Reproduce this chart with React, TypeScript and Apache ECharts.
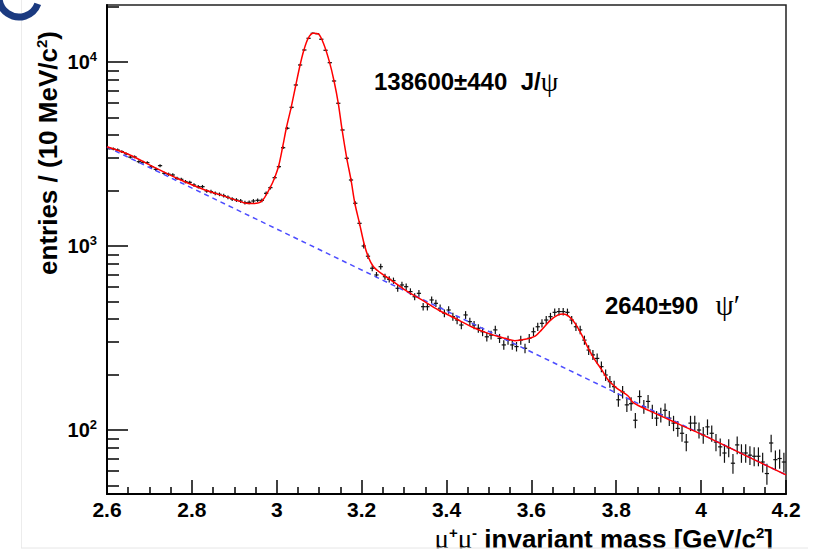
import React, { useEffect, useRef } from 'react';
import * as echarts from 'echarts';

// ---- binning ----
const BIN_START = 2.6;
const BIN_WIDTH = 0.01;

// ---- histogram contents (entries per 10 MeV bin) ----
const COUNTS = [
  3396, 3367, 3325, 3256, 3170, 3040, 3050, 2872, 2849, 2837,
  2698, 2610, 2733, 2483, 2455, 2432, 2332, 2303, 2236, 2218,
  2145, 2101, 2101, 1990, 1974, 1933, 1909, 1877, 1838, 1800,
  1778, 1756, 1720, 1727, 1756, 1771, 1771, 1933, 2075, 2351,
  2698, 3421, 4363, 5671, 7499, 9632, 11620, 13450, 14320, 14250,
  13290, 11577, 9913, 7883, 5965, 4270, 2997, 2284, 1707, 1328,
  1000, 880, 757, 696, 772, 681, 659, 648, 589, 614,
  601, 565, 530, 553, 468, 468, 509, 488, 459, 431,
  449, 413, 396, 372, 422, 388, 372, 357, 342, 321,
  328, 350, 315, 290, 308, 290, 284, 308, 278, 315,
  342, 364, 380, 396, 413, 436, 440, 440, 436, 396,
  364, 350, 308, 272, 256, 245, 221, 199, 183, 172,
  146, 161, 137, 139, 113, 152, 134, 143, 126, 116,
  121, 128, 116, 109, 102, 96, 86, 109, 109, 100,
  94, 104, 96, 86, 81, 75, 80, 66, 83, 75,
  75, 73, 72, 72, 67, 58, 85, 69, 70, 67,
];

// ---- total fit (red) ----
const FIT_X = [
  2.600, 2.654, 2.713, 2.770, 2.831, 2.880, 2.925, 2.945, 2.965, 2.984,
  2.996, 3.005, 3.014, 3.023, 3.034, 3.045, 3.055, 3.064, 3.074, 3.086,
  3.098, 3.110, 3.124, 3.135, 3.145, 3.154, 3.165, 3.175, 3.184, 3.195,
  3.206, 3.216, 3.228, 3.251, 3.267, 3.302, 3.342, 3.381, 3.420, 3.459,
  3.498, 3.538, 3.561, 3.585, 3.609, 3.624, 3.644, 3.663, 3.675, 3.687,
  3.703, 3.719, 3.734, 3.750, 3.766, 3.781, 3.801, 3.828, 3.840, 3.879,
  3.950, 4.000, 4.100, 4.200,
];
const FIT_Y = [
  3460, 3124, 2665, 2304, 2015, 1854, 1713, 1700, 1756, 2067,
  2380, 2756, 3464, 4417, 5671, 7499, 9632, 11620, 13450, 14320,
  14200, 12640, 10040, 7883, 5965, 4270, 2997, 2284, 1707, 1328,
  1025, 868, 772, 696, 659, 577, 509, 449, 405, 364,
  335, 315, 306, 311, 324, 350, 393, 422, 427, 417,
  380, 328, 278, 240, 212, 187, 169, 153, 141, 127,
  107, 95, 73.5, 57,
];

// ---- background (blue dashed) ----
const BG_X = [2.6, 4.2];
const BG_Y = [3450, 57];

// ---- axes ----
const X_MIN = 2.6;
const X_MAX = 4.2;
const X_STEP = 0.2;
const Y_MIN = 44.9;
const Y_MAX = 20400;
const Y_MAJOR = [100, 1000, 10000];
const Y_MINOR = [50, 60, 70, 80, 90, 200, 300, 400, 500, 600, 700, 800, 900,
  2000, 3000, 4000, 5000, 6000, 7000, 8000, 9000, 20000];

// ---- texts ----
const JPSI_YIELD = '138600±440';
const JPSI_NAME = 'J/';
const PSI = 'ψ';
const PSI2S_YIELD = '2640±90';
const PSI2S_NAME = 'ψ′';
const Y_TITLE = 'entries / (10 MeV/c';
const X_TITLE = ' invariant mass [GeV/c';

const SANS = "'Liberation Sans', Arial, Helvetica, sans-serif";
const SERIF = "'Liberation Serif', 'DejaVu Serif', serif";

export default function App() {
  const ref = useRef<HTMLDivElement>(null);

  useEffect(() => {
    if (!ref.current) return;
    const chart = echarts.init(ref.current, undefined, { renderer: 'svg' });

    const half = BIN_WIDTH / 2;
    const histData = COUNTS.map((c, i) => [BIN_START + BIN_WIDTH * (i + 0.5), c]);
    const fitData = FIT_X.map((x, i) => [x, FIT_Y[i]]);
    const bgData = BG_X.map((x, i) => [x, BG_Y[i]]);

    const option: any = {
      animation: false,
      backgroundColor: '#fff',
      grid: {
        left: 107, right: 39, top: 5, bottom: 60,
        show: true, borderColor: '#222', borderWidth: 1.5,
        backgroundColor: 'transparent',
        outerBoundsMode: 'none',
      },
      xAxis: {
        type: 'value', min: X_MIN, max: X_MAX, interval: X_STEP,
        axisLine: { show: true, onZero: false, lineStyle: { color: '#000', width: 2 } },
        axisTick: { show: true, inside: true, length: 14, lineStyle: { color: '#000', width: 1.5 } },
        minorTick: { show: true, splitNumber: 4, length: 7, lineStyle: { color: '#000', width: 1.5 } },
        axisLabel: {
          color: '#000', fontFamily: SANS, fontWeight: 'bold', fontSize: 21, margin: 5,
          showMinLabel: true, showMaxLabel: true, hideOverlap: false,
        },
        splitLine: { show: false },
        minorSplitLine: { show: false },
      },
      yAxis: [
        {
          type: 'log', logBase: 10, min: Y_MIN, max: Y_MAX, position: 'left', offset: 0,
          axisLine: { show: true, onZero: false, lineStyle: { color: '#000', width: 2 } },
          axisTick: { show: true, inside: true, length: 21, customValues: Y_MAJOR, lineStyle: { color: '#000', width: 1.5 } },
          axisLabel: {
            customValues: Y_MAJOR,
            margin: 10,
            formatter: (v: number) => '{b|10}{s|' + Math.round(Math.log10(v)) + '}',
            rich: {
              b: { fontSize: 20, fontWeight: 'bold', fontFamily: SANS, color: '#000', lineHeight: 24 },
              s: { fontSize: 13, fontWeight: 'bold', fontFamily: SANS, color: '#000', verticalAlign: 'top', lineHeight: 14 },
            },
          },
          splitLine: { show: false },
        },
        {
          type: 'log', logBase: 10, min: Y_MIN, max: Y_MAX, position: 'left', offset: 0,
          axisLine: { show: false, onZero: false },
          axisTick: { show: true, inside: true, length: 12, customValues: Y_MINOR, lineStyle: { color: '#000', width: 1.5 } },
          axisLabel: { show: false },
          splitLine: { show: false },
        },
      ],
      series: [
        {
          type: 'custom',
          name: 'data',
          clip: true,
          data: histData,
          encode: { x: 0, y: 1 },
          z: 3,
          renderItem: (_params: any, api: any) => {
            const x = api.value(0);
            const y = api.value(1);
            const e = Math.sqrt(y);
            const l = api.coord([x - half, y]);
            const r = api.coord([x + half, y]);
            const t = api.coord([x, y + e]);
            const b = api.coord([x, y - e]);
            return {
              type: 'group',
              children: [
                { type: 'line', shape: { x1: l[0], y1: l[1], x2: r[0], y2: r[1] }, style: { stroke: '#111', lineWidth: 1.2 } },
                { type: 'line', shape: { x1: t[0], y1: t[1], x2: b[0], y2: b[1] }, style: { stroke: '#111', lineWidth: 1.2 } },
              ],
            };
          },
        },
        {
          type: 'line',
          name: 'background',
          data: bgData,
          symbol: 'none',
          z: 4,
          lineStyle: { color: '#4d4dff', width: 1.5, type: [5, 4] },
        },
        {
          type: 'line',
          name: 'fit',
          data: fitData,
          symbol: 'none',
          smooth: 0.3,
          z: 5,
          lineStyle: { color: '#ff0000', width: 1.5 },
        },
      ],
      graphic: [
        {
          type: 'text', x: 374, y: 81, z: 10,
          style: {
            text: '{n|' + JPSI_YIELD + '  ' + JPSI_NAME + '}{p|' + PSI + '}',
            align: 'left', verticalAlign: 'middle',
            rich: {
              n: { fontSize: 24, fontWeight: 'bold', fontFamily: SANS, fill: '#000' },
              p: { fontSize: 28, fontFamily: SERIF, fill: '#000' },
            },
          },
        },
        {
          type: 'text', x: 605, y: 305, z: 10,
          style: {
            text: '{n|' + PSI2S_YIELD + '  }{p|' + PSI2S_NAME + '}',
            align: 'left', verticalAlign: 'middle',
            rich: {
              n: { fontSize: 24, fontWeight: 'bold', fontFamily: SANS, fill: '#000' },
              p: { fontSize: 29, fontFamily: SERIF, fill: '#000', padding: [0, 0, 0, 4] },
            },
          },
        },
        {
          type: 'text', x: 48, y: 153, rotation: Math.PI / 2, z: 10,
          style: {
            text: '{t|' + Y_TITLE + '}{s|2}{t|)}',
            align: 'center', verticalAlign: 'middle',
            rich: {
              t: { fontSize: 26, fontWeight: 'bold', fontFamily: SANS, fill: '#000', lineHeight: 28 },
              s: { fontSize: 15, fontWeight: 'bold', fontFamily: SANS, fill: '#000', verticalAlign: 'top', lineHeight: 15 },
            },
          },
        },
        {
          type: 'text', x: 773, y: 539, z: 10,
          style: {
            text: '{g|μ}{s|+}{g|μ}{s|-}{t|' + X_TITLE + '}{s|2}{t|]}',
            align: 'right', verticalAlign: 'middle',
            rich: {
              g: { fontSize: 27, fontFamily: SERIF, fill: '#000', lineHeight: 28 },
              t: { fontSize: 26, fontWeight: 'bold', fontFamily: SANS, fill: '#000', lineHeight: 28 },
              s: { fontSize: 15, fontWeight: 'bold', fontFamily: SANS, fill: '#000', verticalAlign: 'top', lineHeight: 15 },
            },
          },
        },
        {
          type: 'line', z: 1,
          shape: { x1: 21.5, y1: 0, x2: 21.5, y2: 548 },
          style: { stroke: '#ececec', lineWidth: 1 },
        },
        {
          type: 'rect', z: 100,
          shape: { x: 0, y: 548.5, width: 825, height: 6 },
          style: { fill: '#fff' },
        },
        {
          type: 'line', z: 101,
          shape: { x1: 21, y1: 548, x2: 808, y2: 548 },
          style: { stroke: '#e6e6e6', lineWidth: 1 },
        },
        {
          type: 'arc', z: 10,
          shape: { cx: 19, cy: -3, r: 20, startAngle: 0.35, endAngle: 4.0, clockwise: true },
          style: { stroke: '#1b3a80', lineWidth: 7, fill: 'none' },
        },
      ],
    };

    chart.setOption(option);
    return () => chart.dispose();
  }, []);

  return (
    <div
      ref={ref}
      style={{ position: 'fixed', left: 0, top: 0, width: 825, height: 554, background: '#fff' }}
    />
  );
}
